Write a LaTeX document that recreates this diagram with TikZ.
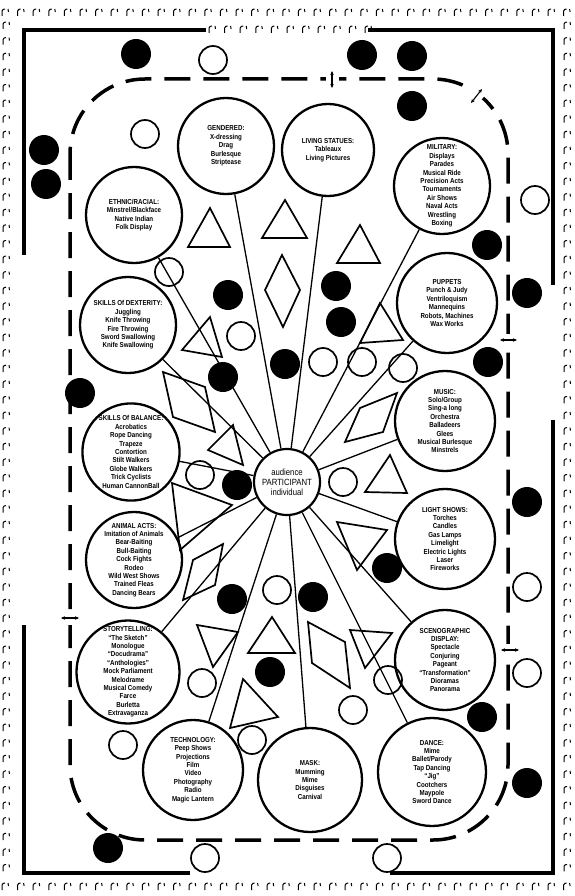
\documentclass[tikz,border=0pt]{standalone}
\usepackage{fontspec}
\setmainfont{Liberation Sans}[FakeStretch=0.86]
\usetikzlibrary{arrows.meta}
\begin{document}
\begin{tikzpicture}[x=1pt,y=-1pt,
  cat/.style={circle, draw, line width=2.3pt, inner sep=0pt, align=center,
    font=\fontsize{7.2}{8.4}\selectfont\bfseries},
  hub/.style={circle, draw, line width=2.2pt, inner sep=0pt, align=center,
    minimum size=66pt, font=\fontsize{9}{10}\selectfont},
  spoke/.style={line width=1.3pt},
  ring/.style={line width=1.7pt},
  prop/.style={line width=1.7pt, line join=miter},
  frame/.style={line width=4.5pt},
  route/.style={line width=3.5pt, dash pattern=on 26pt off 13pt},
  gap/.style={fill=white, minimum size=13pt, inner sep=0pt},
  twoway/.style={line width=1.1pt, {Stealth[length=4pt,width=3.5pt]}-{Stealth[length=4pt,width=3.5pt]}}]
\useasboundingbox (0,0) rectangle (575,896);

% texture marks round the edge
\foreach \x in {2,17.6,...,575}{
  \draw[line width=1pt] (\x,16) -- (\x,11) to[bend left=40] (\x+3,9);
  \draw[line width=1pt] (\x+6,9) -- (\x+6.5,12);
}
\foreach \x in {2,17.6,...,575}{
  \draw[line width=1pt] (\x,890) -- (\x,885) to[bend left=40] (\x+3,883);
  \draw[line width=1pt] (\x+6,883) -- (\x+6.5,886);
}
\foreach \y in {24,39.6,...,880}{
  \draw[line width=1pt] (3,\y+5) -- (3,\y) to[bend left=40] (6,\y-2);
  \draw[line width=1pt] (9,\y-2) -- (9.5,\y+1);
  \draw[line width=1pt] (564,\y+5) -- (564,\y) to[bend left=40] (567,\y-2);
  \draw[line width=1pt] (570,\y-2) -- (570.5,\y+1);
}
\foreach \x in {209,224.6,...,366}{
  \draw[line width=1pt] (\x,33) -- (\x,28) to[bend left=40] (\x+3,26);
  \draw[line width=1pt] (\x+6,26) -- (\x+6.5,29);
}

% broken frame
\draw[frame] (206,30) -- (24,30) -- (24,255);
\draw[frame] (368,30) -- (553,30) -- (553,285);
\draw[frame] (553,420) -- (553,873) -- (390,873);
\draw[frame] (190,873) -- (24,873) -- (24,625);

% dashed route round the circus, cut where the crossings are
\draw[route, rounded corners=75pt] (70,79) rectangle (508,840);
\node[gap] at (332,79) {};
\node[gap, rotate=-40] at (476,96) {};
\node[gap] at (508,340) {};
\node[gap] at (508,650) {};
\node[gap] at (70,618) {};
\draw[twoway] (332,71) -- (332,88);
\draw[twoway] (471,103) -- (482,89);
\draw[twoway] (500,340) -- (517,340);
\draw[twoway] (501,650) -- (519,650);
\draw[twoway] (61,618) -- (79,618);

% hub and categories
\node[hub] (hub) at (287,482) {audience\\PARTICIPANT\\individual};
\node[cat, minimum size=96pt] (gendered) at (226,146)
  {GENDERED:\\X-dressing\\Drag\\Burlesque\\Striptease};
\node[cat, minimum size=92pt] (statues) at (328,150)
  {LIVING STATUES:\\Tableaux\\Living Pictures};
\node[cat, minimum size=96pt] (military) at (442,186)
  {MILITARY:\\Displays\\Parades\\Musical Ride\\Precision Acts\\Tournaments\\Air Shows\\Naval Acts\\Wrestling\\Boxing};
\node[cat, minimum size=96pt] (ethnic) at (134,215)
  {ETHNIC/RACIAL:\\Minstrel/Blackface\\Native Indian\\Folk Display};
\node[cat, minimum size=96pt] (dexterity) at (128,325)
  {SKILLS Of DEXTERITY:\\Juggling\\Knife Throwing\\Fire Throwing\\Sword Swallowing\\Knife Swallowing};
\node[cat, minimum size=100pt] (puppets) at (447,303)
  {PUPPETS\\Punch \& Judy\\Ventriloquism\\Mannequins\\Robots, Machines\\Wax Works};
\node[cat, minimum size=96pt] (balance) at (131,452)
  {SKILLS Of BALANCE:\\Acrobatics\\Rope Dancing\\Trapeze\\Contortion\\Stilt Walkers\\Globe Walkers\\Trick Cyclists\\Human CannonBall};
\node[cat, minimum size=100pt] (music) at (445,421)
  {MUSIC:\\Solo/Group\\Sing-a long\\Orchestra\\Balladeers\\Glees\\Musical Burlesque\\Minstrels};
\node[cat, minimum size=96pt] (animal) at (134,560)
  {ANIMAL ACTS:\\Imitation of Animals\\Bear-Baiting\\Bull-Baiting\\Cock Fights\\Rodeo\\Wild West Shows\\Trained Fleas\\Dancing Bears};
\node[cat, minimum size=100pt] (light) at (445,539)
  {LIGHT SHOWS:\\Torches\\Candles\\Gas Lamps\\Limelight\\Electric Lights\\Laser\\Fireworks};
\node[cat, minimum size=98pt] (story) at (128,672)
  {STORYTELLING:\\``The Sketch''\\Monologue\\``Docudrama''\\``Anthologies''\\Mock Parliament\\Melodrame\\Musical Comedy\\Farce\\Burletta\\Extravaganza};
\node[cat, minimum size=100pt] (sceno) at (445,660)
  {SCENOGRAPHIC\\DISPLAY:\\Spectacle\\Conjuring\\Pageant\\``Transformation''\\Dioramas\\Panorama};
\node[cat, minimum size=100pt] (tech) at (193,770)
  {TECHNOLOGY:\\Peep Shows\\Projections\\Film\\Video\\Photography\\Radio\\Magic Lantern};
\node[cat, minimum size=104pt] (mask) at (310,780)
  {MASK:\\Mumming\\Mime\\Disguises\\Carnival};
\node[cat, minimum size=108pt] (dance) at (432,772)
  {DANCE:\\Mime\\Ballet/Parody\\Tap Dancing\\``Jig''\\Cootchers\\Maypole\\Sword Dance};

% spokes
\foreach \c in {gendered,statues,military,ethnic,dexterity,puppets,balance,
  music,animal,light,story,sceno,tech,mask,dance}
  \draw[spoke] (hub) -- (\c);

% triangles and diamonds
\draw[prop] (210,208) -- (230,247) -- (188,247) -- cycle;
\draw[prop] (285,200) -- (307,238) -- (262,238) -- cycle;
\draw[prop] (282,255) -- (300,290) -- (283,327) -- (265,290) -- cycle;
\draw[prop] (360,225) -- (380,263) -- (337,263) -- cycle;
\draw[prop] (182,350) -- (210,317) -- (222,357) -- cycle;
\draw[prop] (360,343) -- (380,303) -- (403,340) -- cycle;
\draw[prop] (163,372) -- (205,387) -- (215,432) -- (173,417) -- cycle;
\draw[prop] (208,450) -- (233,425) -- (243,465) -- cycle;
\draw[prop] (345,442) -- (360,408) -- (397,393) -- (383,432) -- cycle;
\draw[prop] (365,492) -- (390,455) -- (407,493) -- cycle;
\draw[prop] (172,483) -- (232,505) -- (180,550) -- cycle;
\draw[prop] (337,522) -- (387,530) -- (357,570) -- cycle;
\draw[prop] (183,600) -- (193,560) -- (223,544) -- (215,585) -- cycle;
\draw[prop] (197,625) -- (238,632) -- (213,667) -- cycle;
\draw[prop] (243,679) -- (278,717) -- (230,728) -- cycle;
\draw[prop] (272,617) -- (295,653) -- (248,653) -- cycle;
\draw[prop] (308,622) -- (345,642) -- (350,688) -- (312,663) -- cycle;
\draw[prop] (350,630) -- (392,633) -- (365,668) -- cycle;

% black and white discs
\foreach \p in {(136,54),(362,55),(412,56),(412,106),(44,150),(46,184),
  (487,245),(527,293),(488,362),(527,502),(387,568),(228,295),(336,286),
  (341,322),(285,364),(223,377),(80,393),(237,485),(232,599),(313,597),
  (270,672),(482,717),(527,783),(108,848)}
  \fill \p circle (15);
\foreach \p in {(213,60),(145,134),(535,200),(169,272),(241,336),(323,362),
  (362,362),(403,368),(200,475),(343,482),(277,590),(527,587),
  (202,683),(252,740),(123,745),(353,710),(388,680),(527,673),
  (205,858),(387,858)}
  \draw[ring] \p circle (14);
\end{tikzpicture}
\end{document}
